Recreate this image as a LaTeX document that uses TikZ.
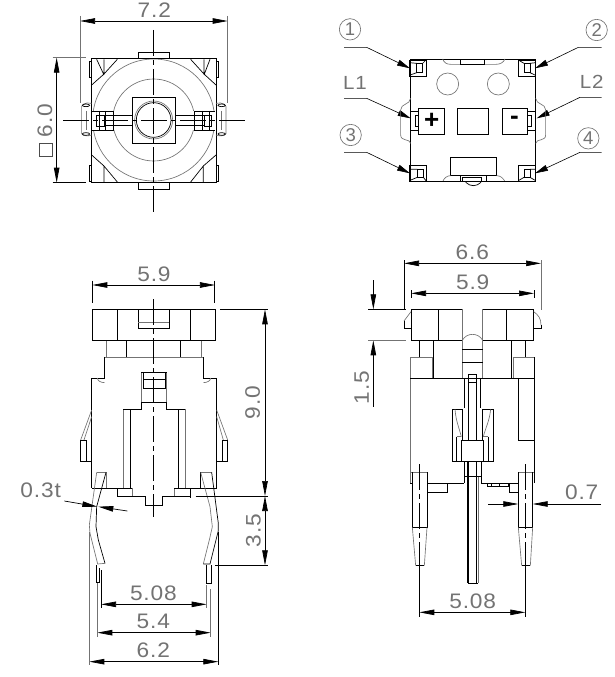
\documentclass[tikz,border=0pt]{standalone}
\usepackage{fontspec}
\setmainfont[LetterSpace=4,FakeStretch=1.08]{Liberation Sans}
\newfontfamily\plainf{Liberation Sans}
\usetikzlibrary{arrows.meta}
\tikzset{
 ln/.style={draw=black,line width=0.7pt,line join=miter},
 gl/.style={draw=black!55,line width=0.65pt},
 cl/.style={draw=black,line width=0.65pt,dash pattern=on 26pt off 4pt on 5pt off 4pt},
 dm/.style={draw=black,line width=0.7pt,{Triangle[length=15pt,width=5.5pt]}-{Triangle[length=15pt,width=5.5pt]}},
 ar/.style={draw=black,line width=0.7pt,-{Triangle[length=15pt,width=5.5pt]}},
 ld/.style={draw=black,line width=0.6pt,-{Triangle[length=13pt,width=6pt]}},
 tx/.style={text=black!55,font=\fontsize{21}{24}\selectfont,inner sep=0pt},
 txs/.style={text=black!55,font=\fontsize{19}{21}\selectfont,inner sep=0pt},
 cn/.style={text=black!55,font=\plainf\fontsize{18.5}{21}\selectfont,inner sep=0pt},
 vw/.style={x=0.33333pt,y=-0.33333pt},
}
\begin{document}
\begin{tikzpicture}[x=1pt,y=-1pt]
\useasboundingbox (0,0) rectangle (614,677);
\fill[white] (0,0) rectangle (614,677);

% ---------- top-left view
\begin{scope}[vw,shift={(30pt,0pt)}]
\draw[dm] (150,63) -- (593,63);
\draw[gl] (150,48) -- (150,308) (593,48) -- (593,308);
\node[tx] (t72) at (373,30) {7.2};
\draw[dm] (80,173) -- (80,548);
\draw[gl] (68,173) -- (168,173);
\draw[ln] (68,548) -- (168,548);
\node[tx,rotate=90] (t60) at (45,362) {6.0};
\draw[ln,draw=black!70] (27,430) rectangle (67,470);
\draw[gl] (371,360) circle (183);
\draw[gl] (371,360) circle (123);
\fill[white] (185,178) -- (262,178) -- (222,222) -- (185,255) -- cycle;
\fill[white] (558,178) -- (482,178) -- (522,222) -- (558,255) -- cycle;
\fill[white] (185,548) -- (262,548) -- (222,498) -- (185,465) -- cycle;
\fill[white] (558,548) -- (482,548) -- (522,498) -- (558,465) -- cycle;
\draw[ln] (185,176) rectangle (558,548);
\draw[ln] (325,176) -- (325,157) -- (418,157) -- (418,176);
\draw[ln] (325,548) -- (325,568) -- (418,568) -- (418,548);
\draw[ln,line width=1pt] (185,240) -- (185,310) (185,390) -- (185,470);
\draw[ln] (262,178) -- (222,222) -- (222,178) (200,178) -- (222,225) (222,222) -- (185,255);
\draw[ln] (482,178) -- (522,222) -- (522,178) (540,178) -- (522,225) (522,222) -- (558,255);
\draw[ln] (262,546) -- (222,498) -- (222,548) (222,498) -- (185,465);
\draw[ln] (482,546) -- (520,498) -- (520,548) (520,498) -- (558,465);
\draw[ln] (185,185) -- (178,185) -- (178,232) -- (185,232);
\draw[ln] (558,185) -- (565,185) -- (565,232) -- (558,232);
\draw[ln] (185,497) -- (178,497) -- (178,545) -- (185,545);
\draw[ln] (558,497) -- (565,497) -- (565,545) -- (558,545);
\fill[white] (307,292) rectangle (437,430);
\draw[ln] (307,292) rectangle (437,430);
\draw[gl] (371,360) circle (57);
\draw[ln] (371,360) circle (52);
\fill[white] (187,333) rectangle (307,390);
\fill[white] (437,333) rectangle (555,390);
\draw[ln] (187,333) -- (250,333) -- (250,390) -- (187,390);
\draw[ln] (207,333) -- (207,390) (225,333) -- (225,390);
\draw[ln] (200,347) rectangle (222,378);
\draw[ln] (222,347) -- (307,347) (222,375) -- (307,375);
\draw[ln] (555,333) -- (493,333) -- (493,390) -- (555,390);
\draw[ln] (516,333) -- (516,390) (537,333) -- (537,390);
\draw[ln] (522,347) rectangle (544,378);
\draw[ln] (437,347) -- (522,347) (437,375) -- (522,375);
\draw[gl] (185,310) .. controls (165,305) and (150,315) .. (155,330) -- (155,392) .. controls (150,405) and (165,412) .. (185,405);
\draw[gl] (168,333) -- (168,390);
\draw[ln] (168,316) ellipse (11 and 4) (168,402) ellipse (11 and 4);
\draw[gl] (558,310) .. controls (578,305) and (593,315) .. (588,330) -- (588,392) .. controls (593,405) and (578,412) .. (558,405);
\draw[gl] (575,333) -- (575,390);
\draw[ln] (575,316) ellipse (11 and 4) (575,402) ellipse (11 and 4);
\draw[cl] (100,360) -- (645,360);
\draw[cl] (371,90) -- (371,635);
\end{scope}

% ---------- top-right view
\begin{scope}[vw,shift={(330pt,-10pt)}]
\draw[gl] (60,58) circle (32) (800,60) circle (32) (62,375) circle (32) (775,385) circle (32);
\node[cn] (c1) at (60,58) {1};
\node[cn] (c2) at (800,60) {2};
\node[cn] (c3) at (62,375) {3};
\node[cn] (c4) at (775,385) {4};
\node[txs] (l1) at (75,220) {L1};
\node[txs] (l2) at (785,215) {L2};
\draw[ld] (42,112) -- (110,112) -- (240,175);
\draw[ld] (815,112) -- (745,112) -- (615,175);
\draw[ld] (42,265) -- (110,265) -- (242,325);
\draw[ld] (815,262) -- (750,262) -- (620,325);
\draw[ld] (42,427) -- (110,427) -- (240,490);
\draw[ld] (815,427) -- (750,427) -- (615,490);
\draw[ln] (242,147) -- (617,147) -- (617,515) -- (242,515) -- cycle;
\draw[ln] (238,150) rectangle (288,200) (260,160) rectangle (278,188);
\draw[ln] (238,158) -- (260,160) (238,196) -- (260,188) (288,150) -- (278,160);
\draw[ln] (565,150) rectangle (617,200) (582,160) rectangle (600,188);
\draw[ln] (617,158) -- (600,160) (617,196) -- (600,188) (565,150) -- (582,160);
\draw[ln] (238,467) rectangle (288,515) (262,478) rectangle (280,502);
\draw[ln] (238,478) -- (262,478) (238,512) -- (262,502) (288,512) -- (280,502);
\draw[ln] (565,467) rectangle (617,515) (582,478) rectangle (600,502);
\draw[ln] (617,478) -- (600,478) (617,512) -- (600,502) (565,512) -- (582,502);
\draw[gl] (338,147) .. controls (342,158) and (350,163) .. (362,163) -- (498,163) .. controls (510,163) and (520,158) .. (525,147);
\draw[ln] (392,147) rectangle (462,163);
\draw[gl] (353,222) circle (33) (505,222) circle (33);
\draw[ln] (265,295) rectangle (342,372) (382,295) rectangle (475,372) (517,295) rectangle (593,372);
\node[font=\plainf\fontsize{26}{26}\bfseries\selectfont,inner sep=0pt] (plus) at (305,332) {+};
\node[font=\plainf\fontsize{26}{26}\bfseries\selectfont,inner sep=0pt] (minus) at (553,330) {-};
\draw[ln] (265,305) -- (242,305) (242,360) -- (265,360);
\draw[ln] (265,317) -- (255,317) -- (255,348) -- (265,348);
\draw[ln] (593,305) -- (617,305) (593,360) -- (617,360);
\draw[ln] (593,317) -- (605,317) -- (605,348) -- (593,348);
\draw[gl] (242,265) .. controls (240,285) and (212,280) .. (212,300) -- (212,375) .. controls (212,395) and (240,385) .. (242,400);
\draw[gl] (617,265) .. controls (619,285) and (647,280) .. (647,300) -- (647,375) .. controls (647,395) and (619,385) .. (617,400);
\draw[ln] (362,497) -- (362,442) -- (500,442) -- (500,497);
\draw[ln] (362,497) -- (500,497);
\draw[ln] (400,497) arc (180:0:30);
\draw[gl] (338,515) .. controls (342,505) and (350,497) .. (362,497) (500,497) .. controls (512,497) and (520,505) .. (525,515);
\fill[white] (392,497) rectangle (468,515);
\draw[ln] (392,497) rectangle (468,515) (398,503) rectangle (455,515);
\draw[ln,line width=1pt] (242,515) -- (617,515);
\end{scope}

% ---------- lower-left view
\begin{scope}[vw,shift={(10pt,-260pt)}]
\draw[dm] (247,75) -- (615,75);
\draw[ln] (247,62) -- (247,130) (613,62) -- (613,130);
\node[tx] (t59a) at (432,42) {5.9};
\draw[ln] (247,148) rectangle (615,242);
\draw[ln] (322,148) -- (322,242) (541,148) -- (541,242);
\draw[ln] (385,148) -- (385,205) -- (478,205) -- (478,148);
\draw[gl] (385,187) -- (478,187);
\draw[gl] (289,242) -- (289,292) (575,242) -- (575,292);
\draw[ln] (349,242) -- (349,292) (511,242) -- (511,292);
\draw[gl] (284,292) -- (580,292);
\draw[ln] (284,292) -- (284,354) -- (245,354) -- (245,685);
\draw[ln] (580,292) -- (580,354) -- (620,354) -- (620,685);
\draw[gl] (262,354) arc (180:90:22 and 14) (602,354) arc (0:90:22 and 14);
\draw[gl] (394,337) rectangle (470,427);
\draw[ln] (400,337) rectangle (465,385) (400,357) -- (465,357);
\draw[ln] (394,337) -- (470,337);
\draw[ln] (360,448) -- (394,448) -- (394,427) -- (470,427) -- (470,448) -- (505,448);
\draw[gl] (340,448) -- (340,685) (525,448) -- (525,685);
\draw[ln] (340,448) -- (360,448) -- (360,685) (505,448) -- (505,685) (505,448) -- (525,448);
% side clips
\draw[gl] (245,450) -- (212,540) (245,470) -- (222,540);
\draw[ln] (212,540) rectangle (230,605) (212,605) -- (245,605);
\draw[gl] (620,450) -- (653,540) (620,470) -- (640,540);
\draw[ln] (638,540) rectangle (653,605) (620,605) -- (653,605);
% dim 9.0
\draw[dm] (765,148) -- (765,708);
\draw[ln] (630,148) -- (775,148);
\node[tx,rotate=90] (t90) at (728,428) {9.0};
\end{scope}

\begin{scope}[vw,shift={(10pt,-460pt)}]
\draw[ln] (245,25) -- (245,85) (620,25) -- (620,85);
\draw[gl] (340,25) -- (340,85) (525,25) -- (525,85);
\draw[ln] (360,25) -- (360,85) (505,25) -- (505,85);
\draw[ln] (245,85) -- (322,85) -- (322,108) -- (405,108) -- (405,135) -- (457,135) -- (457,108) -- (542,108) -- (542,85) -- (620,85);
\draw[gl] (367,85) -- (367,108) (493,85) -- (493,108);
\draw[ln] (322,85) -- (367,85) (493,85) -- (542,85) (542,108) -- (542,113);
\draw[gl] (260,37) -- (290,37) -- (290,85) (572,37) -- (605,37);
\draw[ln] (572,37) -- (572,85);
% left lead
\draw[gl] (260,37) -- (238,195) -- (240,220) -- (263,312) -- (285,310);
\draw[ln] (288,37) -- (260,140) -- (258,200) -- (265,240) -- (285,310);
\draw[ln] (258,315) -- (258,367) -- (268,367) -- (268,325);
% right lead
\draw[gl] (572,37) -- (600,140) -- (607,200) -- (598,240) -- (580,312);
\draw[ln] (605,37) -- (625,190) -- (625,212) -- (600,312) -- (580,312);
\draw[ln] (590,314) -- (590,370) -- (603,370) -- (603,314);
\node[tx] (t03) at (92,90) {0.3t};
\draw[ar] (163,123) -- (262,140);
\draw[ar] (352,153) -- (265,140);
\draw[dm] (765,108) -- (765,316);
\draw[ln] (557,108) -- (775,108) (615,316) -- (775,316);
\node[tx,rotate=90] (t35) at (730,212) {3.5};
\draw[dm] (273,433) -- (590,433);
\draw[ln] (273,330) -- (273,445);
\draw[gl] (590,375) -- (590,445);
\node[tx] (t508a) at (430,400) {5.08};
\draw[dm] (262,518) -- (602,518);
\draw[gl] (262,370) -- (262,530) (602,388) -- (602,530);
\node[tx] (t54) at (430,485) {5.4};
\draw[dm] (238,605) -- (625,605);
\draw[gl] (238,215) -- (238,615);
\draw[ln] (625,215) -- (625,615);
\node[tx] (t62) at (430,572) {6.2};
\end{scope}
\draw[cl] (153.3,299.3) -- (153.3,516.6);

% ---------- lower-right view
\begin{scope}[vw,shift={(340pt,-235pt)}]
\draw[dm] (192,85) -- (603,85);
\draw[ln] (192,75) -- (192,225);
\draw[gl] (603,75) -- (603,225);
\node[tx] (t66) at (397,52) {6.6};
\draw[dm] (213,175) -- (582,175);
\draw[ln] (213,165) -- (213,190) (582,165) -- (582,190);
\node[tx] (t59b) at (398,142) {5.9};
\draw[ar] (100,135) -- (100,223);
\draw[ar] (100,515) -- (100,316);
\draw[ln] (85,223) -- (198,223);
\draw[gl] (85,316) -- (198,316);
\node[tx,rotate=90] (t15) at (65,458) {1.5};
\draw[ln] (367,223) -- (213,223) -- (213,316) -- (367,316) (295,223) -- (295,316);
\draw[ln] (428,316) -- (581,316) -- (581,223) -- (428,223) (499,223) -- (499,316);
\draw[gl] (367,223) -- (367,430) (428,223) -- (428,430);
\draw[gl] (213,230) -- (192,258);
\draw[ln] (192,258) -- (192,280) -- (213,280);
\draw[gl] (581,230) .. controls (595,240) and (603,250) .. (603,270);
\draw[ln] (603,270) -- (603,280) -- (581,280);
\draw[gl] (367,316) .. controls (380,292) and (415,292) .. (428,316);
\draw[ln] (367,343) -- (428,343) (367,382) -- (428,382);
\draw[ln] (238,316) -- (238,367) (280,316) -- (280,367);
\draw[ln] (515,316) -- (515,367) (556,316) -- (556,367);
\draw[gl] (211,367) -- (278,367) -- (278,430) (211,367) -- (211,744);
\draw[ln,line width=1pt] (280,316) -- (280,430);
\draw[ln] (515,316) -- (515,430);
\draw[gl] (520,367) -- (583,367) (520,367) -- (520,430);
\draw[ln] (211,430) -- (583,430);
\draw[ln] (583,367) -- (583,744);
\draw[ln] (535,430) -- (535,616) -- (583,616);
\draw[ln] (374,430) -- (374,520) (421,430) -- (421,520);
\draw[ln] (385,418) rectangle (410,442);
\draw[ln] (385,442) -- (385,615) (410,442) -- (410,615);
\draw[ln] (367,523) -- (338,523) -- (338,680) -- (460,680) -- (460,523) -- (428,523);
\draw[ln] (367,523) -- (367,615) (428,523) -- (428,615);
\draw[ln] (350,605) -- (350,680) (445,605) -- (445,680);
\draw[gl] (350,605) -- (364,605) (430,605) -- (445,605);
\draw[ln] (364,615) -- (430,615) (364,615) -- (364,680) (430,615) -- (430,680);
\draw[gl] (345,523) .. controls (348,560) and (358,580) .. (364,605);
\draw[gl] (452,523) .. controls (448,560) and (436,580) .. (430,605);
\end{scope}

\begin{scope}[vw,shift={(380pt,-440pt)}]
\draw[ln] (253,65) -- (253,130) (303,65) -- (303,130);
\draw[ln] (253,110) -- (303,110);
\draw[ln,line width=1.2pt] (264,65) -- (264,430);
\draw[ln] (290,65) -- (290,430);
\draw[gl] (295,110) -- (295,430);
\draw[ln] (264,430) -- (295,430);
\draw[gl] (91,0) -- (91,130);
\draw[ln] (463,0) -- (463,130);
\draw[ln] (91,130) -- (97,130) (141,130) -- (253,130) (303,130) -- (415,130);
\draw[ln] (143,130) -- (143,157) -- (203,157) -- (203,130);
\draw[ln] (322,130) -- (322,138) -- (385,138) -- (385,130) (335,130) -- (335,138) (358,130) -- (358,138);
\draw[ln] (388,130) -- (388,157) -- (415,157);
\draw[gl] (91,97) -- (143,97) (415,97) -- (463,97);
\draw[ln] (97,97) -- (97,262) -- (141,262) -- (141,97);
\draw[ln] (415,97) -- (415,262) -- (458,262) -- (458,97);
\draw[ln] (107,377) -- (133,377);
\draw[gl] (97,262) -- (107,377) (141,262) -- (133,377);
\draw[ln] (425,377) -- (451,377);
\draw[gl] (415,262) -- (425,377) (458,262) -- (451,377);
\draw[cl] (118,72) -- (118,377);
\draw[cl] (436,72) -- (436,377);
\draw[ln] (118,377) -- (118,530) (436,377) -- (436,530);
\draw[dm] (118,517) -- (436,517);
\node[tx] (t508b) at (278,483) {5.08};
\draw[ar] (325,192) -- (415,192);
\draw[ar] (663,192) -- (458,192);
\node[tx] (t07) at (605,158) {0.7};
\end{scope}
\end{tikzpicture}
\end{document}
